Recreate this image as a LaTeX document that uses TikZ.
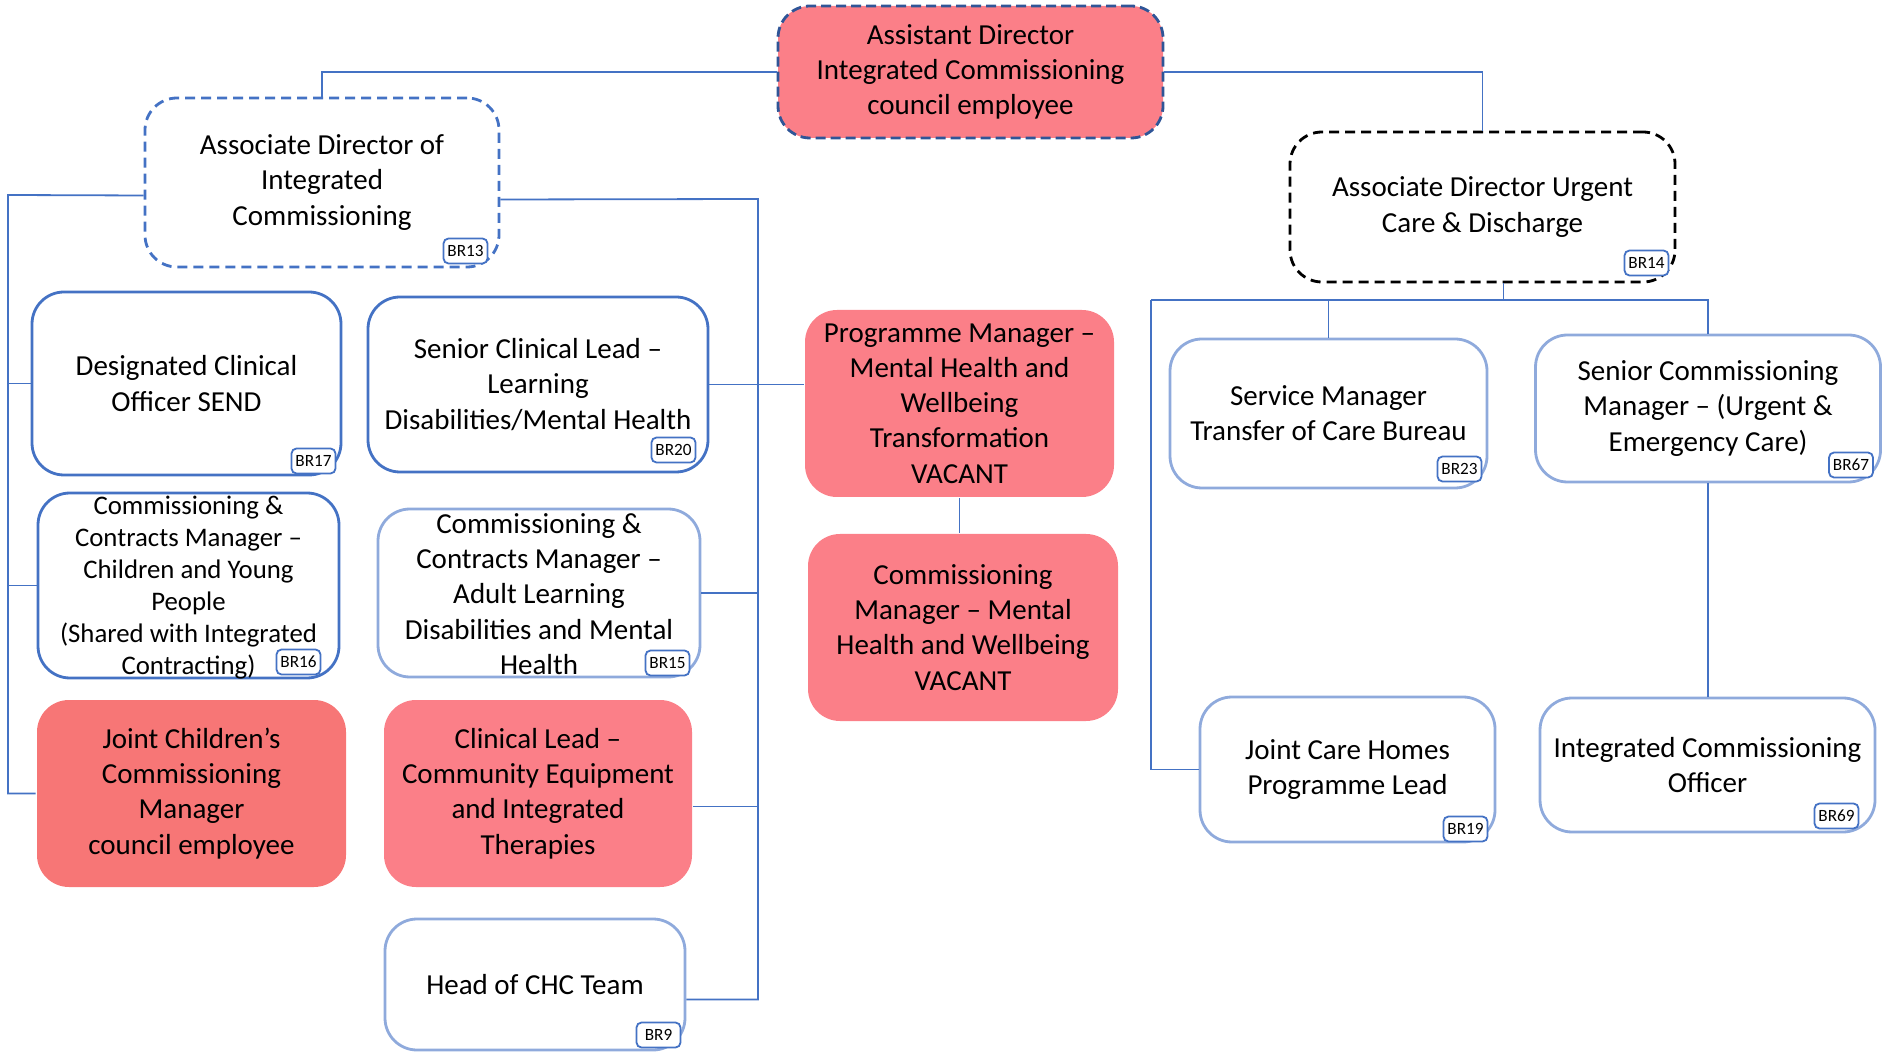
\documentclass[tikz,border=0pt]{standalone}
\usepackage{fontspec}
\setmainfont{Carlito}
\usetikzlibrary{calc}

\definecolor{linkblue}{RGB}{68,114,196}
\definecolor{paleblue}{RGB}{143,170,220}
\definecolor{deepblue}{RGB}{47,85,151}
\definecolor{vacpink}{RGB}{251,127,136}
\definecolor{salmon}{RGB}{247,118,118}

\tikzset{
  post/.style={rectangle, rounded corners=16pt, align=center, inner sep=1pt,
    line width=1.4pt, font=\fontsize{14.5}{17.6}\selectfont},
  bluepost/.style={post, draw=linkblue},
  palepost/.style={post, draw=paleblue},
  redpost/.style={post, fill=vacpink},
  words/.style={align=center, inner sep=0pt, font=\fontsize{14.5}{17.6}\selectfont},
  tag/.style={draw=linkblue, fill=white, line width=0.9pt, rounded corners=2.5pt,
    inner sep=1pt, minimum width=22pt, minimum height=12.5pt, font=\fontsize{8.6}{10}\selectfont},
  conn/.style={draw=linkblue, line width=0.9pt}
}
\newcommand\brtag[4]{\node[tag, anchor=south east] (#1tag) at ($(#1.south east)+(#3,#4)$) {#2};}

\begin{document}
\begin{tikzpicture}[x=0.5pt,y=-0.5pt]
\useasboundingbox (0,0) rectangle (1883,1052);

% top level
\node[redpost, draw=deepblue, dashed, dash pattern=on 5pt off 2.5pt, minimum width=192.5pt, minimum height=66pt] (asst) at (970.5,72)
  {Assistant Director\\Integrated Commissioning\\council employee};
\node[post, draw=linkblue, dash pattern=on 5pt off 3pt, minimum width=177pt, minimum height=84.5pt] (adic) at (322,182.5)
  {Associate Director of\\Integrated\\Commissioning};
\node[post, draw=black, dash pattern=on 5pt off 3pt, minimum width=192.5pt, minimum height=75pt] (urg) at (1482.5,207)
  {Associate Director Urgent\\Care \& Discharge};

% left column
\node[bluepost, minimum width=154.5pt, minimum height=91.5pt] (dco) at (186.5,383.5)
  {Designated Clinical\\Officer SEND};
\node[bluepost, minimum width=150.5pt, minimum height=92.5pt] (ccmc) at (188.5,585.5) {};
\node[words, font=\fontsize{13.4}{16}\selectfont] (ccmctext) at ($(ccmc.center)+(0,2)$)
  {Commissioning \&\\Contracts Manager --\\Children and Young\\People\\(Shared with Integrated\\Contracting)};
\node[post, fill=salmon, minimum width=154.5pt, minimum height=93.5pt] (jccm) at (191.5,793.5)
  {Joint Children’s\\Commissioning\\Manager\\council employee};

% second column
\node[bluepost, minimum width=170pt, minimum height=87.5pt] (scl) at (538,384.5)
  {Senior Clinical Lead --\\Learning\\Disabilities/Mental Health};
\node[palepost, minimum width=161pt, minimum height=84pt] (ccma) at (539,593) {};
\node[words] (ccmatext) at ($(ccma.center)+(0,1)$)
  {Commissioning \&\\Contracts Manager --\\Adult Learning\\Disabilities and Mental\\Health};
\node[redpost, minimum width=154pt, minimum height=93.5pt] (clin) at (538,793.5)
  {Clinical Lead --\\Community Equipment\\and Integrated\\Therapies};
\node[palepost, minimum width=150pt, minimum height=65.5pt] (chc) at (535,984.5)
  {Head of CHC Team};

% mental health
\node[redpost, minimum width=154.5pt, minimum height=93.5pt] (pm) at (959.5,403.5)
  {Programme Manager --\\Mental Health and\\Wellbeing\\Transformation\\VACANT};
\node[redpost, minimum width=155pt, minimum height=93.5pt] (cm) at (963,627.5)
  {Commissioning\\Manager -- Mental\\Health and Wellbeing\\VACANT};

% urgent care
\node[palepost, minimum width=158.5pt, minimum height=74.5pt] (sm) at (1328.5,413.5)
  {Service Manager\\Transfer of Care Bureau};
\node[palepost, minimum width=172.5pt, minimum height=73.5pt] (scm) at (1708,408.5)
  {Senior Commissioning\\Manager -- (Urgent \&\\Emergency Care)};
\node[palepost, minimum width=147.5pt, minimum height=72.5pt] (jch) at (1347.5,769.5)
  {Joint Care Homes\\Programme Lead};
\node[palepost, minimum width=167.5pt, minimum height=67pt] (ico) at (1707.5,765)
  {Integrated Commissioning\\Officer};

% BR tags
\brtag{adic}{BR13}{-12}{-4}
\brtag{urg}{BR14}{-7}{-7}
\brtag{dco}{BR17}{-6}{-2}
\brtag{scl}{BR20}{-13}{-10}
\brtag{ccmc}{BR16}{-19}{-4}
\brtag{ccma}{BR15}{-11}{-2}
\brtag{chc}{BR9}{-5}{-3}
\brtag{sm}{BR23}{-6}{-7}
\brtag{scm}{BR67}{-8}{-5}
\brtag{jch}{BR19}{-8}{-1}
\brtag{ico}{BR69}{-17}{-4}

% connectors
\draw[conn] (asst.west) -| (adic.north);
\draw[conn] (asst.east) -| (urg.north);

\coordinate (lb) at (8,195);
\draw[conn] ($(adic.west)+(0,13)$) -- (lb) |- (jccm.west);
\draw[conn] (lb |- dco.west) -- (dco.west);
\draw[conn] (lb |- ccmc.west) -- (ccmc.west);

\coordinate (rb) at (758,199);
\draw[conn] ($(adic.east)+(0,17)$) -- (rb) |- ($(chc.east)+(0,15)$);
\draw[conn] (scl.east) -- (scl.east -| pm.west);
\draw[conn] (ccma.east) -- (ccma.east -| rb);
\draw[conn] ($(clin.east)+(0,13)$) -- ($(clin.east -| rb)+(0,13)$);
\draw[conn] (pm.south) -- (pm.south |- cm.north);

\coordinate (ub) at (1151,300);
\draw[conn] ($(urg.south)+(21,0)$) -- ($(urg.south)+(21,18)$);
\draw[conn] (ub) -- (ub -| scm.north) -- (scm.north);
\draw[conn] (ub -| sm.north) -- (sm.north);
\draw[conn] (ub) |- (jch.west);
\draw[conn] (scm.south) -- (scm.south |- ico.north);
\end{tikzpicture}
\end{document}
